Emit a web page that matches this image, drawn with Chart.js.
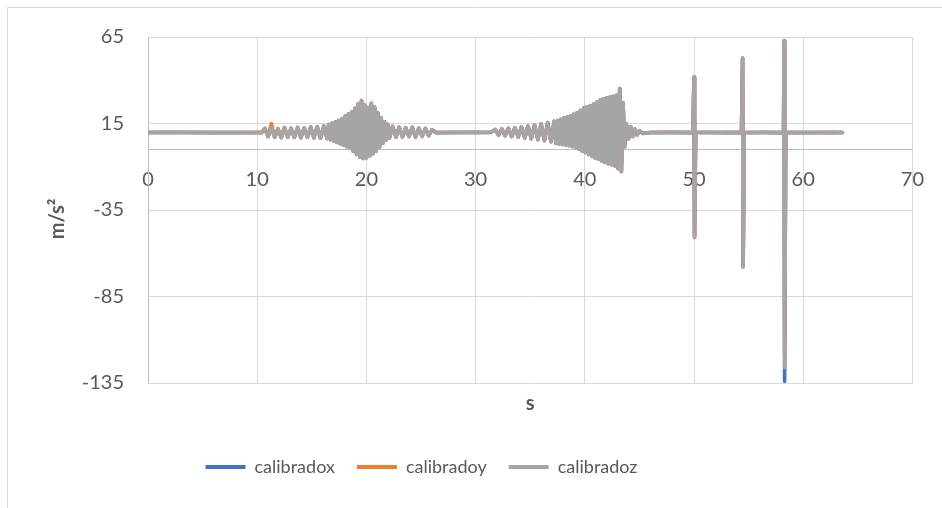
<!DOCTYPE html>
<html>
<head>
<meta charset="utf-8">
<script src="https://cdn.jsdelivr.net/npm/chart.js@4.4.1/dist/chart.umd.min.js"></script>
<style>
  html, body { margin: 0; padding: 0; background: #fff; overflow: hidden; }
  #wrap { position: relative; width: 942px; height: 508px; }
</style>
</head>
<body>
<div id="wrap"><canvas id="grafico"></canvas></div>
<script>
// Tiempo (s) y aceleraciones calibradas (m/s²), leídas a ojo del gráfico original
const tiempo = [
  0, 2, 4, 6, 8, 10.4,
  10.7, 11.0, 11.3, 11.6, 11.9, 12.2, 12.5, 12.8, 13.1, 13.4, 13.7, 14.0, 14.3, 14.6, 14.9, 15.2, 15.5, 15.8, 16.1,
  16.4, 16.55, 16.7, 16.85, 17.0, 17.15, 17.3, 17.45, 17.6, 17.75, 17.9, 18.05, 18.2, 18.35, 18.5, 18.65, 18.8, 18.95, 19.1, 19.25,
  19.4, 19.55, 19.7, 19.85, 20.0, 20.15, 20.3, 20.45, 20.6, 20.75, 20.9, 21.05, 21.2, 21.35, 21.5, 21.65, 21.8, 21.95, 22.1,
  22.4, 22.7, 23.0, 23.3, 23.6, 23.9, 24.2, 24.5, 24.8, 25.1, 25.4, 25.7, 26.0,
  26.4, 28, 30, 31.4,
  31.8, 32.1, 32.4, 32.7, 33.0, 33.3, 33.6, 33.9, 34.2, 34.5, 34.8, 35.1, 35.4, 35.7, 36.0, 36.3, 36.6, 36.9, 37.2,
  37.35, 37.5, 37.65, 37.8, 37.95, 38.1, 38.25, 38.4, 38.55, 38.7, 38.85, 39.0, 39.15, 39.3, 39.45, 39.6, 39.75, 39.9, 40.05, 40.2,
  40.35, 40.5, 40.65, 40.8, 40.95, 41.1, 41.25, 41.4, 41.55, 41.7, 41.85, 42.0, 42.15, 42.3, 42.45, 42.6, 42.75, 42.9, 43.05, 43.2,
  43.35, 43.5, 43.65,
  43.8, 44.0, 44.2, 44.4, 44.6, 44.8, 45.0, 45.3,
  46, 48, 49.9,
  50.0, 50.05, 50.15,
  51, 52, 53, 54.35,
  54.45, 54.5, 54.6,
  55.5, 56.5, 57.5, 58.2,
  58.25, 58.3, 58.4,
  59.5, 61, 62.5, 63.6
];

const calibradox = [
  9.8, 9.8, 9.8, 9.7, 9.8, 9.8,
  12.0, 7.6, 12.4, 7.2, 11.9, 7.0, 12.5, 7.3, 12.1, 7.1, 12.6, 6.9, 12.3, 7.2, 12.8, 6.8, 13.0, 6.6, 13.4,
  6.4, 14.3, 5.8, 15.0, 5.1, 15.8, 4.2, 16.6, 3.4, 17.7, 2.6, 19.1, 1.7, 20.4, 0.8, 21.6, -1.0, 23.7, -2.8, 26.3,
  -4.4, 28.1, -5.1, 25.5, -4.7, 24.1, -3.6, 26.6, -2.3, 24.4, -0.8, 21.0, 1.4, 18.2, 3.6, 15.9, 5.4, 14.4, 6.6,
  13.2, 7.2, 12.7, 7.4, 12.4, 7.6, 12.6, 7.3, 12.2, 7.7, 12.0, 8.1, 11.2,
  9.7, 9.8, 9.8, 9.9,
  11.4, 8.4, 11.8, 8.0, 12.1, 7.6, 12.4, 7.3, 12.8, 6.8, 13.4, 6.3, 14.0, 5.8, 14.6, 5.2, 15.4, 4.6, 16.2,
  3.6, 16.6, 3.3, 17.3, 3.0, 18.1, 2.7, 18.8, 2.3, 19.4, 1.8, 20.2, 1.1, 21.2, 0.4, 22.5, -0.8, 23.9, -1.7, 24.6,
  -2.8, 25.2, -3.8, 26.1, -4.8, 27.3, -5.6, 28.4, -6.6, 29.2, -7.4, 29.7, -8.2, 30.2, -8.7, 30.6, -9.4, 31.2, -11.0, 35.0,
  -12.7, 26.8, 1.7,
  14.8, 6.2, 13.0, 7.6, 11.6, 8.5, 10.7, 9.4,
  9.8, 9.8, 9.7,
  41.5, -50.5, 9.8,
  9.8, 9.8, 9.7, 9.8,
  52.5, -67.5, 9.8,
  9.8, 9.8, 9.7, 9.8,
  62.5, -134.0, 9.8,
  9.7, 9.8, 9.8, 9.8
];

const calibradoy = [
  9.8, 9.9, 9.8, 9.8, 9.8, 9.7,
  12.1, 7.5, 15.0, 7.1, 12.0, 6.9, 12.6, 7.2, 12.2, 7.0, 12.7, 6.8, 12.4, 7.1, 12.9, 6.7, 13.1, 6.5, 13.5,
  6.3, 14.4, 5.7, 15.1, 5.0, 15.9, 4.1, 16.7, 3.3, 17.8, 2.5, 19.2, 1.6, 20.5, 0.7, 21.7, -1.1, 23.8, -2.9, 26.4,
  -4.5, 28.2, -5.2, 25.6, -4.8, 24.2, -3.7, 26.7, -2.4, 24.5, -0.9, 21.1, 1.3, 18.3, 3.5, 16.0, 5.3, 14.5, 6.5,
  13.3, 7.1, 12.8, 7.3, 12.5, 7.5, 12.7, 7.2, 12.3, 7.6, 12.1, 8.0, 11.3,
  9.8, 9.8, 9.9, 9.8,
  11.5, 8.3, 11.9, 7.9, 12.2, 7.5, 12.5, 7.2, 12.9, 6.7, 13.5, 6.2, 14.1, 5.7, 14.7, 5.1, 15.5, 4.5, 16.3,
  3.5, 16.7, 3.2, 17.4, 2.9, 18.2, 2.6, 18.9, 2.2, 19.5, 1.7, 20.3, 1.0, 21.3, 0.3, 22.6, -0.9, 24.0, -1.8, 24.7,
  -2.9, 25.3, -3.9, 26.2, -4.9, 27.4, -5.7, 28.5, -6.7, 29.3, -7.5, 29.8, -8.3, 30.3, -8.8, 30.7, -9.5, 31.3, -11.1, 35.1,
  -12.8, 26.9, 1.6,
  14.9, 6.1, 13.1, 7.5, 11.7, 8.4, 10.8, 9.3,
  9.8, 9.9, 9.8,
  41.8, -50.8, 9.8,
  9.8, 9.8, 9.9, 9.8,
  52.8, -67.8, 9.8,
  9.8, 9.8, 9.8, 9.7,
  62.8, -119.0, 9.8,
  9.8, 9.8, 9.7, 9.8
];

const calibradoz = [
  9.8, 9.7, 9.9, 9.8, 9.7, 9.8,
  12.2, 7.4, 12.6, 7.0, 12.1, 6.8, 12.7, 7.1, 12.3, 6.9, 12.8, 6.7, 12.5, 7.0, 13.0, 6.6, 13.2, 6.4, 13.6,
  6.2, 14.5, 5.6, 15.2, 4.9, 16.0, 4.0, 16.8, 3.2, 17.9, 2.4, 19.3, 1.5, 20.6, 0.6, 21.8, -1.2, 23.9, -3.0, 26.5,
  -4.6, 28.4, -5.3, 25.7, -4.9, 24.3, -3.8, 26.8, -2.5, 24.6, -1.0, 21.2, 1.2, 18.4, 3.4, 16.1, 5.2, 14.6, 6.4,
  13.4, 7.0, 12.9, 7.2, 12.6, 7.4, 12.8, 7.1, 12.4, 7.5, 12.2, 7.9, 11.4,
  9.6, 9.9, 9.7, 9.8,
  11.6, 8.2, 12.0, 7.8, 12.3, 7.4, 12.6, 7.1, 13.0, 6.6, 13.6, 6.1, 14.2, 5.6, 14.8, 5.0, 15.6, 4.4, 16.4,
  3.4, 16.8, 3.1, 17.5, 2.8, 18.3, 2.5, 19.0, 2.1, 19.6, 1.6, 20.4, 0.9, 21.4, 0.2, 22.7, -1.0, 24.1, -1.9, 24.8,
  -3.0, 25.4, -4.0, 26.3, -5.0, 27.5, -5.8, 28.6, -6.8, 29.4, -7.6, 29.9, -8.4, 30.4, -8.9, 30.8, -9.6, 31.4, -11.2, 35.3,
  -12.9, 27.0, 1.5,
  15.0, 6.0, 13.2, 7.4, 11.8, 8.3, 10.9, 9.2,
  9.8, 9.7, 9.8,
  42.0, -51.0, 9.8,
  9.9, 9.7, 9.8, 9.8,
  53.0, -68.0, 9.8,
  9.7, 9.9, 9.8, 9.8,
  63.0, -126.0, 9.8,
  9.8, 9.7, 9.9, 9.8
];

const series = ['calibradox', 'calibradoy', 'calibradoz'];
const colores = ['#4472C4', '#ED7D31', '#A5A5A5'];
const ticksX = [0, 10, 20, 30, 40, 50, 60, 70];
const ticksY = [-135, -85, -35, 15, 65];

const valores = [calibradox, calibradoy, calibradoz];
const gris = '#595959';

const datasets = series.map((nombre, i) => ({
  label: nombre,
  data: tiempo.map((t, k) => ({ x: t, y: valores[i][k] })),
  borderColor: colores[i],
  backgroundColor: colores[i],
  borderWidth: 3.6,
  borderCapStyle: 'round',
  borderJoinStyle: 'round',
  pointRadius: 0,
  tension: 0,
  // la serie z queda encima, como en Excel
  order: series.length - i
}));

const titulo = { family: 'Lato', size: 20, weight: 'bold' };
const etiquetas = { family: 'Lato', size: 20 };

// marco del gráfico (solo se ven los bordes izquierdo y superior)
// y título vertical, que Excel centra algo más abajo que Chart.js
const marco = {
  id: 'marco',
  beforeDraw(chart) {
    const ctx = chart.ctx;
    ctx.save();
    ctx.fillStyle = '#fff';
    ctx.fillRect(0, 0, chart.width, chart.height);
    ctx.strokeStyle = '#d9d9d9';
    ctx.lineWidth = 1;
    ctx.beginPath();
    ctx.moveTo(7.5, chart.height);
    ctx.lineTo(7.5, 7.5);
    ctx.lineTo(chart.width, 7.5);
    ctx.stroke();
    ctx.restore();
  },
  afterDraw(chart) {
    const ctx = chart.ctx;
    const area = chart.chartArea;
    ctx.save();
    ctx.translate(58, (area.top + area.bottom) / 2 + 9);
    ctx.rotate(-Math.PI / 2);
    ctx.font = Chart.helpers.toFont(titulo).string;
    ctx.fillStyle = gris;
    ctx.textAlign = 'center';
    ctx.textBaseline = 'middle';
    ctx.fillText('m/s²', 0, 0);
    ctx.restore();
  }
};

// la leyenda de Excel no queda centrada en el lienzo
const leyendaIzq = {
  id: 'leyendaIzq',
  afterLayout(chart) {
    const lg = chart.legend;
    if (lg) { lg.right = lg.left + 843; lg.width = 843; }
  }
};

new Chart(document.getElementById('grafico'), {
  type: 'line',
  data: { datasets },
  plugins: [marco, leyendaIzq],
  options: {
    responsive: true,
    maintainAspectRatio: false,
    animation: false,
    layout: { padding: { top: 37, right: 29, bottom: 22, left: 0 } },
    plugins: {
      tooltip: { enabled: false },
      legend: {
        position: 'bottom',
        labels: {
          boxWidth: 40,
          boxHeight: 4,
          padding: 22,
          color: gris,
          font: { family: 'Lato', size: 18 },
          sort: (a, b) => a.datasetIndex - b.datasetIndex,
          generateLabels: chart => Chart.defaults.plugins.legend.labels.generateLabels(chart)
            .map(l => Object.assign(l, { lineWidth: 0 }))
        }
      }
    },
    scales: {
      x: {
        type: 'linear',
        position: { y: 0 },
        min: ticksX[0],
        max: ticksX[ticksX.length - 1],
        afterBuildTicks: s => { s.ticks = ticksX.map(v => ({ value: v })); },
        grid: { color: '#d9d9d9', drawTicks: false },
        border: { color: '#bfbfbf' },
        ticks: { color: gris, font: etiquetas, padding: 18, maxRotation: 0 }
      },
      xt: {
        type: 'linear',
        axis: 'x',
        position: 'bottom',
        min: ticksX[0],
        max: ticksX[ticksX.length - 1],
        grid: { display: false, drawTicks: false },
        border: { display: false },
        ticks: { display: false },
        title: { display: true, text: 's', color: gris, font: titulo, padding: { top: 9, bottom: 20 } }
      },
      y: {
        min: ticksY[0],
        max: ticksY[ticksY.length - 1],
        afterBuildTicks: s => { s.ticks = ticksY.map(v => ({ value: v })); },
        afterFit: s => { s.width = 148; },
        grid: { color: '#d9d9d9', drawTicks: false },
        border: { color: '#bfbfbf' },
        ticks: { color: gris, font: etiquetas, padding: 24 }
      }
    }
  }
});
</script>
</body>
</html>
